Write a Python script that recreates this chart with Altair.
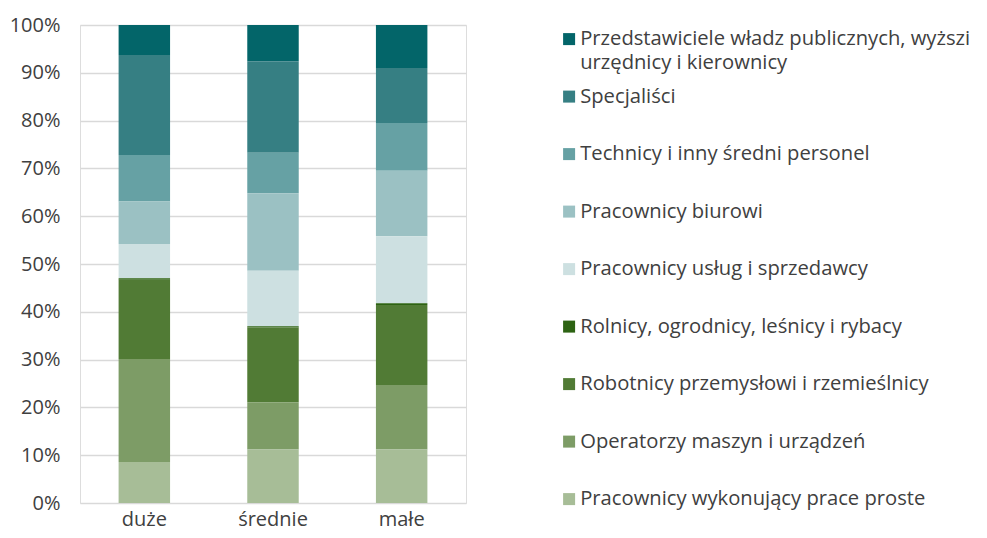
import altair as alt
import pandas as pd

categories = ["duże", "średnie", "małe"]

groups = [
    "Przedstawiciele władz publicznych, wyższi urzędnicy i kierownicy",
    "Specjaliści",
    "Technicy i inny średni personel",
    "Pracownicy biurowi",
    "Pracownicy usług i sprzedawcy",
    "Rolnicy, ogrodnicy, leśnicy i rybacy",
    "Robotnicy przemysłowi i rzemieślnicy",
    "Operatorzy maszyn i urządzeń",
    "Pracownicy wykonujący prace proste",
]

przedstawiciele = [6.3, 7.6, 9.0]
specjalisci = [20.9, 19.1, 11.5]
technicy = [9.7, 8.5, 10.0]
biurowi = [8.9, 16.2, 13.7]
uslugi = [7.2, 11.6, 14.0]
rolnicy = [0.3, 0.3, 0.4]
robotnicy = [16.6, 15.6, 16.7]
operatorzy = [21.5, 9.9, 13.5]
proste = [8.6, 11.2, 11.2]

series = [przedstawiciele, specjalisci, technicy, biurowi, uslugi,
          rolnicy, robotnicy, operatorzy, proste]

colors = ["#036569", "#367f83", "#66a1a4", "#9bc1c3", "#cde0e1",
          "#2d6313", "#517b35", "#7d9c66", "#a7bd97"]

rows = []
for gi, (g, vals) in enumerate(zip(groups, series)):
    for c, v in zip(categories, vals):
        rows.append({"kategoria": c, "grupa": g, "wartosc": v,
                     "kolejnosc": len(groups) - gi})
df = pd.DataFrame(rows)

FONT = "Open Sans"
TXT = "#404040"
FS = 20

label_expr = ("datum.label == '" + groups[0] + "' ? "
              "['Przedstawiciele władz publicznych, wyższi', 'urzędnicy i kierownicy'] : datum.label")

chart = alt.Chart(df).mark_bar().encode(
    x=alt.X("kategoria:N", sort=categories, title=None,
            scale=alt.Scale(paddingInner=0.6, paddingOuter=0.3),
            axis=alt.Axis(labelAngle=0, labelFontSize=FS, labelColor=TXT,
                          labelFont=FONT, ticks=False, domain=False,
                          labelPadding=6)),
    y=alt.Y("wartosc:Q", stack="normalize", title=None,
            scale=alt.Scale(domain=[0, 1]),
            axis=alt.Axis(format=".0%", values=[i / 10 for i in range(11)],
                          labelFontSize=FS, labelColor=TXT, labelFont=FONT,
                          ticks=False, domain=False, labelPadding=20,
                          gridColor="#d9d9d9", gridWidth=1.5)),
    color=alt.Color("grupa:N", title=None,
                    scale=alt.Scale(domain=groups, range=colors),
                    legend=alt.Legend(orient="none", legendX=479, legendY=4,
                                      direction="vertical",
                                      labelFontSize=20.2, labelFont=FONT,
                                      labelColor=TXT, labelLimit=480,
                                      labelExpr=label_expr,
                                      symbolType="square", symbolSize=144,
                                      symbolStrokeWidth=0, symbolOpacity=1,
                                      labelOffset=1, rowPadding=12.5,
                                      gridAlign="all")),
    order=alt.Order("kolejnosc:Q", sort="ascending"),
).properties(
    width=386, height=478,
    autosize=alt.AutoSizeParams(type="none"),
    padding={"left": 72, "top": 17, "right": 513, "bottom": 27},
).configure_view(stroke=None).configure(
    style={"guide-label": {"lineHeight": 24}}
)

chart.save("out.html", embed_options={"renderer": "svg", "actions": False})
